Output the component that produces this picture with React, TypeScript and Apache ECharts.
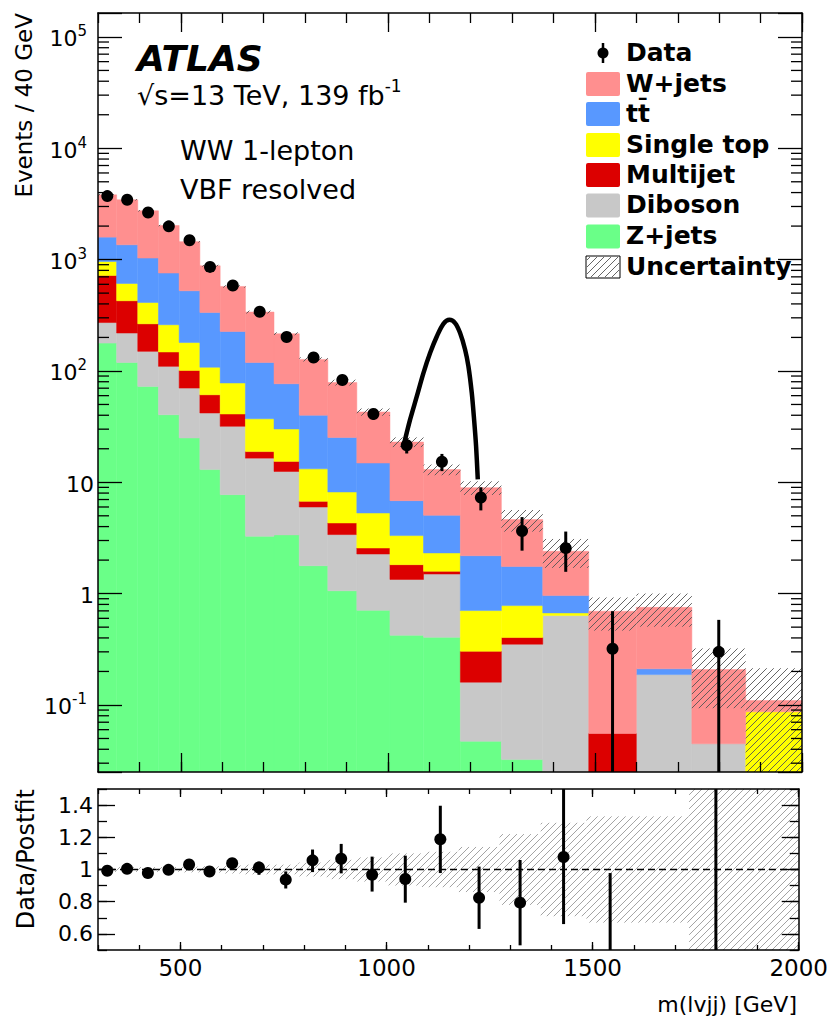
import React, { useEffect, useRef } from 'react';
import * as echarts from 'echarts';

// ---------------- data ----------------
const binEdges = [300, 345, 396, 446, 496, 546, 595, 656, 725, 786, 855, 925, 1005, 1086, 1175, 1274, 1374, 1485, 1600, 1734, 1864, 2000];

// Background yields (events / 40 GeV), one value per bin
const zJets = [178, 119, 72.6, 40.4, 25, 13.0, 7.74, 3.27, 3.37, 1.78, 1.06, 0.708, 0.422, 0.405, 0.0472, 0.0323, 0, 0, 0, 0, 0];
const diboson = [94, 100, 77.4, 69.6, 45.2, 28.9, 24.1, 13.2, 9.13, 4.22, 2.33, 1.56, 0.918, 1.095, 0.113, 0.319, 0.635, 0, 0.1875, 0.0448, 0];
const multijet = [448, 208, 115, 38, 30.8, 19.2, 9.2, 2.4, 2.9, 0.74, 0.92, 0.30, 0.48, 0.085, 0.143, 0.052, 0, 0.0554, 0, 0, 0];
const singleTop = [241, 183, 147, 112, 79, 46.9, 36.9, 18.3, 14.7, 6.46, 3.87, 2.73, 1.50, 0.735, 0.401, 0.377, 0.036, 0, 0, 0, 0.0867];
const ttbar = [631, 748, 620, 497, 345, 227, 148, 81.8, 46.6, 26.8, 17.1, 9.6, 3.52, 2.73, 1.486, 0.97, 0.289, 0, 0.0235, 0, 0];
const wJets = [2227, 2085, 1710, 1266, 925, 545, 348, 219, 139, 87, 53.5, 27.9, 16.16, 7.95, 6.76, 2.87, 1.44, 0.639, 0.542, 0.163, 0.0229];

// Relative total uncertainty of the background prediction per bin
const relUncertainty = [0.015, 0.015, 0.015, 0.015, 0.018, 0.02, 0.025, 0.03, 0.03, 0.043, 0.06, 0.075, 0.1, 0.11, 0.14, 0.22, 0.29, 0.33, 0.33, 0.55, 0.95];

// Data (events / 40 GeV)
const dataYield = [3720, 3450, 2650, 1990, 1490, 860, 585, 340, 202, 132, 83, 41, 21.5, 15.3, 7.3, 3.65, 2.56, 0.32, null, 0.30, null];

// Data / Postfit ratio with error bar ends
const ratioValue = [0.992, 1.004, 0.978, 0.998, 1.031, 0.988, 1.039, 1.012, 0.937, 1.057, 1.067, 0.967, 0.941, 1.188, 0.824, 0.794, 1.078, 0.45, null, 1.6, null];
const ratioLow = [0.98, 0.99, 0.965, 0.985, 1.015, 0.972, 1.02, 0.967, 0.882, 0.984, 0.976, 0.863, 0.794, 0.978, 0.631, 0.529, 0.661, 0, null, 0, null];
const ratioHigh = [1.004, 1.018, 0.99, 1.011, 1.047, 1.004, 1.058, 1.049, 0.988, 1.124, 1.159, 1.08, 1.086, 1.396, 1.018, 1.059, 1.52, 0.978, null, 3.1, null];

// Signal curve (mass in GeV, events / 40 GeV)
const signalMass = [1037.5, 1053.6, 1069.8, 1085.8, 1101.9, 1118.1, 1134, 1148.6, 1162.3, 1174.4, 1186.5, 1194.5, 1202.6, 1208.2, 1213, 1217.1];
const signalYield = [21.0, 36.5, 59.0, 95.7, 145, 204, 265, 288, 269, 219, 155, 110, 63.3, 36.5, 21.0, 10.6];

// Axis tick labels
const xMajorTicks = [500, 1000, 1500, 2000];
const ratioMajorTicks = [0.6, 0.8, 1, 1.2, 1.4];
const logMinorMantissas = [2, 3, 4, 5, 6, 7, 8, 9];
const logDecades = [-2, -1, 0, 1, 2, 3, 4, 5];

// ---------------- styling ----------------
const FONT = "'DejaVu Sans', sans-serif";
const Y_MIN = 0.025;
const Y_MAX = 1.64e5;
const R_MIN = 0.5;
const R_MAX = 1.5;

const stackDefs = [
  { name: 'Z+jets', values: zJets, color: '#6AFF88' },
  { name: 'Diboson', values: diboson, color: '#C8C8C8' },
  { name: 'Multijet', values: multijet, color: '#DC0000' },
  { name: 'Single top', values: singleTop, color: '#FFFF00' },
  { name: 'tt\u0304', values: ttbar, color: '#5898FF' },
  { name: 'W+jets', values: wJets, color: '#FF8F8F' },
];

function hatchLines(x0: number, y0: number, x1: number, y1: number, step: number, stroke: string, lw: number) {
  const xa = Math.min(x0, x1), xb = Math.max(x0, x1), ya = Math.min(y0, y1), yb = Math.max(y0, y1);
  const out: any[] = [];
  const cStart = Math.ceil((xa + ya) / step) * step;
  for (let c = cStart; c <= xb + yb; c += step) {
    const xs = Math.max(xa, c - yb);
    const xe = Math.min(xb, c - ya);
    if (xe - xs > 0.3) {
      out.push({ type: 'line', shape: { x1: xs, y1: c - xs, x2: xe, y2: c - xe }, style: { stroke, lineWidth: lw } });
    }
  }
  return out;
}

function buildOption() {
  const nBins = binEdges.length - 1;
  const centers = binEdges.slice(0, -1).map((e, i) => (e + binEdges[i + 1]) / 2);
  const cumulative = new Array(nBins).fill(0);

  const stackSeries: any[] = stackDefs.map((def) => {
    const data: number[][] = [];
    for (let i = 0; i < nBins; i++) {
      const lo = cumulative[i];
      const hi = lo + def.values[i];
      cumulative[i] = hi;
      if (def.values[i] > 0 && hi > Y_MIN) data.push([binEdges[i], binEdges[i + 1], Math.max(lo, Y_MIN), hi]);
    }
    return {
      type: 'custom',
      name: def.name,
      xAxisIndex: 0,
      yAxisIndex: 0,
      clip: true,
      z: 2,
      itemStyle: { color: def.color },
      encode: { x: [0, 1], y: [2, 3] },
      data,
      renderItem: (params: any, api: any) => {
        const a = api.coord([api.value(0), api.value(2)]);
        const b = api.coord([api.value(1), api.value(3)]);
        return {
          type: 'rect',
          shape: { x: a[0], y: b[1], width: b[0] - a[0], height: a[1] - b[1] },
          style: { fill: def.color, stroke: def.color, lineWidth: 0.5 },
        };
      },
    };
  });
  const totals = cumulative.slice();

  const mainBand = totals.map((t, i) => [binEdges[i], binEdges[i + 1], Math.max(t * (1 - relUncertainty[i]), Y_MIN), Math.min(t * (1 + relUncertainty[i]), Y_MAX)]);
  const ratioBand = totals.map((t, i) => [binEdges[i], binEdges[i + 1], Math.max(1 - relUncertainty[i], R_MIN), Math.min(1 + relUncertainty[i], R_MAX)]);

  const hatchRender = (stroke: string, lw: number) => (params: any, api: any) => {
    const a = api.coord([api.value(0), api.value(2)]);
    const b = api.coord([api.value(1), api.value(3)]);
    return { type: 'group', children: hatchLines(a[0], a[1], b[0], b[1], 7, stroke, lw) };
  };

  const dataPoints: number[][] = [];
  const dataErrors: number[][] = [];
  const ratioPoints: number[][] = [];
  const ratioErrors: number[][] = [];
  for (let i = 0; i < nBins; i++) {
    const d = dataYield[i];
    const r = ratioValue[i];
    if (d == null || r == null) continue;
    dataPoints.push([centers[i], d]);
    const lowR = ratioLow[i] as number;
    const highR = ratioHigh[i] as number;
    const low = lowR > 0 ? (d * lowR) / r : Y_MIN;
    const high = (d * highR) / r;
    dataErrors.push([centers[i], Math.max(low, Y_MIN), Math.min(high, Y_MAX)]);
    ratioPoints.push([centers[i], r]);
    ratioErrors.push([centers[i], Math.max(lowR, R_MIN), Math.min(highR, R_MAX)]);
  }

  const errRender = (params: any, api: any) => {
    const a = api.coord([api.value(0), api.value(1)]);
    const b = api.coord([api.value(0), api.value(2)]);
    return { type: 'line', shape: { x1: a[0], y1: a[1], x2: b[0], y2: b[1] }, style: { stroke: '#000', lineWidth: 3 } };
  };

  const minorTicks: number[][] = [];
  logDecades.forEach((e) => {
    logMinorMantissas.forEach((m) => {
      const v = m * Math.pow(10, e);
      if (v > Y_MIN && v < Y_MAX) minorTicks.push([300, v]);
    });
  });

  const lineStyle = { color: '#000', width: 1.5 };
  const tickStyle = { color: '#000', width: 1.3 };
  const xBase = { type: 'value', min: 300, max: 2000, splitLine: { show: false }, z: 10 };
  const xAxes = [
    { ...xBase, gridIndex: 0, position: 'bottom', interval: 100, axisLine: { show: true, onZero: false, lineStyle }, axisTick: { inside: true, length: 10, lineStyle: tickStyle }, axisLabel: { show: false } },
    { ...xBase, gridIndex: 0, position: 'bottom', axisLine: { show: false, onZero: false }, axisTick: { inside: true, length: 19, customValues: xMajorTicks, lineStyle: tickStyle }, axisLabel: { show: false } },
    { ...xBase, gridIndex: 0, position: 'top', interval: 100, axisLine: { show: true, onZero: false, lineStyle }, axisTick: { inside: true, length: 10, lineStyle: tickStyle }, axisLabel: { show: false } },
    { ...xBase, gridIndex: 0, position: 'top', axisLine: { show: false, onZero: false }, axisTick: { inside: true, length: 19, customValues: xMajorTicks, lineStyle: tickStyle }, axisLabel: { show: false } },
    { ...xBase, gridIndex: 1, position: 'bottom', interval: 100, axisLine: { show: true, onZero: false, lineStyle }, axisTick: { inside: true, length: 5, lineStyle: tickStyle }, axisLabel: { show: false } },
    { ...xBase, gridIndex: 1, position: 'bottom', axisLine: { show: false, onZero: false }, axisTick: { inside: true, length: 8, customValues: xMajorTicks, lineStyle: tickStyle }, axisLabel: { show: true, customValues: xMajorTicks, margin: 6, fontFamily: FONT, fontSize: 23, color: '#000', formatter: (v: number) => String(v) } },
    { ...xBase, gridIndex: 1, position: 'top', interval: 100, axisLine: { show: true, onZero: false, lineStyle }, axisTick: { inside: true, length: 5, lineStyle: tickStyle }, axisLabel: { show: false } },
    { ...xBase, gridIndex: 1, position: 'top', axisLine: { show: false, onZero: false }, axisTick: { inside: true, length: 8, customValues: xMajorTicks, lineStyle: tickStyle }, axisLabel: { show: false } },
  ];

  const logLabel = (v: number) => {
    const lg = Math.log10(v);
    const e = Math.round(lg);
    if (Math.abs(lg - e) > 1e-6) return '';
    if (e === 0) return '{b|1}';
    if (e === 1) return '{b|10}';
    return `{b|10}{s|${e}}{g| }`;
  };
  const richLabel = {
    b: { fontSize: 22, fontFamily: FONT, color: '#000', lineHeight: 26, verticalAlign: 'bottom' },
    s: { fontSize: 15, fontFamily: FONT, color: '#000', lineHeight: 10, verticalAlign: 'top' },
    g: { fontSize: 10, width: 7, lineHeight: 10 },
  };

  const yAxes = [
    { type: 'log', gridIndex: 0, position: 'left', min: Y_MIN, max: Y_MAX, z: 10, splitLine: { show: false }, axisLine: { show: true, onZero: false, lineStyle }, axisTick: { inside: true, length: 24, lineStyle: tickStyle }, axisLabel: { formatter: logLabel, rich: richLabel, margin: 4, fontFamily: FONT, fontSize: 22, color: '#000' } },
    { type: 'log', gridIndex: 0, position: 'right', min: Y_MIN, max: Y_MAX, z: 10, splitLine: { show: false }, axisLine: { show: true, onZero: false, lineStyle }, axisTick: { inside: true, length: 24, lineStyle: tickStyle }, axisLabel: { show: false } },
    { type: 'value', gridIndex: 1, position: 'left', min: R_MIN, max: R_MAX, interval: 0.1, z: 10, splitLine: { show: false }, axisLine: { show: true, onZero: false, lineStyle }, axisTick: { inside: true, length: 9, lineStyle: tickStyle }, axisLabel: { show: false } },
    { type: 'value', gridIndex: 1, position: 'left', min: R_MIN, max: R_MAX, z: 10, splitLine: { show: false }, axisLine: { show: false, onZero: false }, axisTick: { inside: true, length: 17, customValues: ratioMajorTicks, lineStyle: tickStyle }, axisLabel: { customValues: ratioMajorTicks, margin: 5, fontFamily: FONT, fontSize: 22, color: '#000', formatter: (v: number) => String(Math.round(v * 10) / 10) } },
    { type: 'value', gridIndex: 1, position: 'right', min: R_MIN, max: R_MAX, interval: 0.1, z: 10, splitLine: { show: false }, axisLine: { show: true, onZero: false, lineStyle }, axisTick: { inside: true, length: 9, lineStyle: tickStyle }, axisLabel: { show: false } },
    { type: 'value', gridIndex: 1, position: 'right', min: R_MIN, max: R_MAX, z: 10, splitLine: { show: false }, axisLine: { show: false, onZero: false }, axisTick: { inside: true, length: 17, customValues: ratioMajorTicks, lineStyle: tickStyle }, axisLabel: { show: false } },
  ];

  const series: any[] = [
    ...stackSeries,
    {
      type: 'custom', name: 'Uncertainty', xAxisIndex: 0, yAxisIndex: 0, clip: true, z: 3,
      encode: { x: [0, 1], y: [2, 3] }, data: mainBand, renderItem: hatchRender('#555', 0.9),
    },
    {
      type: 'line', name: 'Signal', xAxisIndex: 0, yAxisIndex: 0, z: 4, smooth: 0.3, showSymbol: false, symbol: 'none',
      lineStyle: { color: '#000', width: 4.5 }, data: signalMass.map((m, i) => [m, signalYield[i]]),
    },
    {
      type: 'custom', name: 'Data errors', xAxisIndex: 0, yAxisIndex: 0, clip: true, z: 5,
      encode: { x: 0, y: [1, 2] }, data: dataErrors, renderItem: errRender,
    },
    {
      type: 'scatter', name: 'Data', xAxisIndex: 0, yAxisIndex: 0, z: 6, symbol: 'circle', symbolSize: 12,
      itemStyle: { color: '#000', opacity: 1 }, data: dataPoints,
    },
    {
      type: 'custom', name: 'Log minor ticks', xAxisIndex: 0, yAxisIndex: 0, z: 10, silent: true,
      encode: { x: 0, y: 1 }, data: minorTicks,
      renderItem: (params: any, api: any) => {
        const v = api.value(1);
        const l = api.coord([300, v]);
        const r = api.coord([2000, v]);
        return {
          type: 'group',
          children: [
            { type: 'line', shape: { x1: l[0], y1: l[1], x2: l[0] + 11, y2: l[1] }, style: { stroke: '#000', lineWidth: 1.3 } },
            { type: 'line', shape: { x1: r[0] - 11, y1: r[1], x2: r[0], y2: r[1] }, style: { stroke: '#000', lineWidth: 1.3 } },
          ],
        };
      },
    },
    {
      type: 'custom', name: 'Ratio uncertainty', xAxisIndex: 4, yAxisIndex: 2, clip: true, z: 3,
      encode: { x: [0, 1], y: [2, 3] }, data: ratioBand, renderItem: hatchRender('#999', 0.9),
    },
    {
      type: 'line', name: 'Unity', xAxisIndex: 4, yAxisIndex: 2, z: 4, showSymbol: false, symbol: 'none',
      lineStyle: { color: '#000', width: 1.4, type: [7, 4] }, data: [[300, 1], [2000, 1]],
    },
    {
      type: 'custom', name: 'Ratio errors', xAxisIndex: 4, yAxisIndex: 2, clip: true, z: 5,
      encode: { x: 0, y: [1, 2] }, data: ratioErrors, renderItem: errRender,
    },
    {
      type: 'scatter', name: 'Ratio', xAxisIndex: 4, yAxisIndex: 2, z: 6, clip: true, symbol: 'circle', symbolSize: 12,
      itemStyle: { color: '#000', opacity: 1 }, data: ratioPoints,
    },
  ];

  // ---------- text and legend ----------
  const txt = (text: string, x: number, y: number, size: number, extra: any = {}) => ({
    type: 'text', x, y, silent: true,
    style: { text, fontFamily: FONT, fontSize: size, fill: '#000', align: 'left', verticalAlign: 'middle', ...extra },
  });

  const legendRows = [53, 84, 114, 145, 175, 205.5, 236.5, 267];
  const legendOrder = ['W+jets', 'tt\u0304', 'Single top', 'Multijet', 'Diboson', 'Z+jets'];
  const legendEls: any[] = [];
  legendEls.push({ type: 'line', silent: true, shape: { x1: 603, y1: legendRows[0] - 10, x2: 603, y2: legendRows[0] + 10 }, style: { stroke: '#000', lineWidth: 2.5 } });
  legendEls.push({ type: 'circle', silent: true, shape: { cx: 603, cy: legendRows[0], r: 5.5 }, style: { fill: '#000' } });
  legendEls.push(txt('Data', 626, legendRows[0] - 1, 25, { fontWeight: 'bold' }));
  legendOrder.forEach((name, k) => {
    const def = stackDefs.find((d) => d.name === name)!;
    const cy = legendRows[k + 1];
    legendEls.push({ type: 'rect', silent: true, shape: { x: 586, y: cy - 12, width: 34, height: 24, r: 2 }, style: { fill: def.color } });
    legendEls.push(txt(name, 626, cy - 1, 25, { fontWeight: 'bold' }));
  });
  const uy = legendRows[7];
  legendEls.push({ type: 'rect', silent: true, shape: { x: 586, y: uy - 11, width: 34, height: 22 }, style: { fill: '#fff', stroke: '#000', lineWidth: 1 } });
  hatchLines(587, uy - 10, 619, uy + 10, 7, '#555', 0.9).forEach((l) => legendEls.push({ ...l, silent: true }));
  legendEls.push(txt('Uncertainty', 626, uy - 1, 25, { fontWeight: 'bold' }));

  const yTitle: any = txt('Events / 40 GeV', 24, 13, 23, { align: 'right' });
  yTitle.rotation = Math.PI / 2;
  const ratioTitle: any = txt('Data/Postfit', 26, 789, 24, { align: 'right' });
  ratioTitle.rotation = Math.PI / 2;

  const graphic = [
    txt('ATLAS', 137, 58, 36, { fontWeight: 'bold', fontStyle: 'italic' }),
    {
      type: 'text', x: 137, y: 93, silent: true,
      style: {
        text: '{n|\u221As=13 TeV, 139 fb}{s|-1}', align: 'left', verticalAlign: 'middle',
        rich: {
          n: { fontFamily: FONT, fontSize: 27, fill: '#000', color: '#000', lineHeight: 32, verticalAlign: 'bottom' },
          s: { fontFamily: FONT, fontSize: 17, fill: '#000', color: '#000', lineHeight: 13, verticalAlign: 'top' },
        },
      },
    },
    txt('WW 1-lepton', 180, 150, 27),
    txt('VBF resolved', 180, 189, 27),
    yTitle,
    ratioTitle,
    txt('m(lvjj) [GeV]', 797, 1004, 22, { align: 'right' }),
    ...legendEls,
  ];

  return {
    animation: false,
    backgroundColor: '#fff',
    grid: [
      { left: 98, top: 13, width: 704, height: 759, show: false },
      { left: 98, top: 789, width: 704, height: 161, show: false },
    ],
    xAxis: xAxes,
    yAxis: yAxes,
    series,
    graphic,
  };
}

export default function App() {
  const ref = useRef<HTMLDivElement>(null);
  useEffect(() => {
    const chart = echarts.init(ref.current!, null, { renderer: 'svg' });
    chart.setOption(buildOption() as any);
    return () => chart.dispose();
  }, []);
  return <div ref={ref} style={{ position: 'absolute', left: 0, top: 0, width: 831, height: 1019, background: '#fff' }} />;
}
